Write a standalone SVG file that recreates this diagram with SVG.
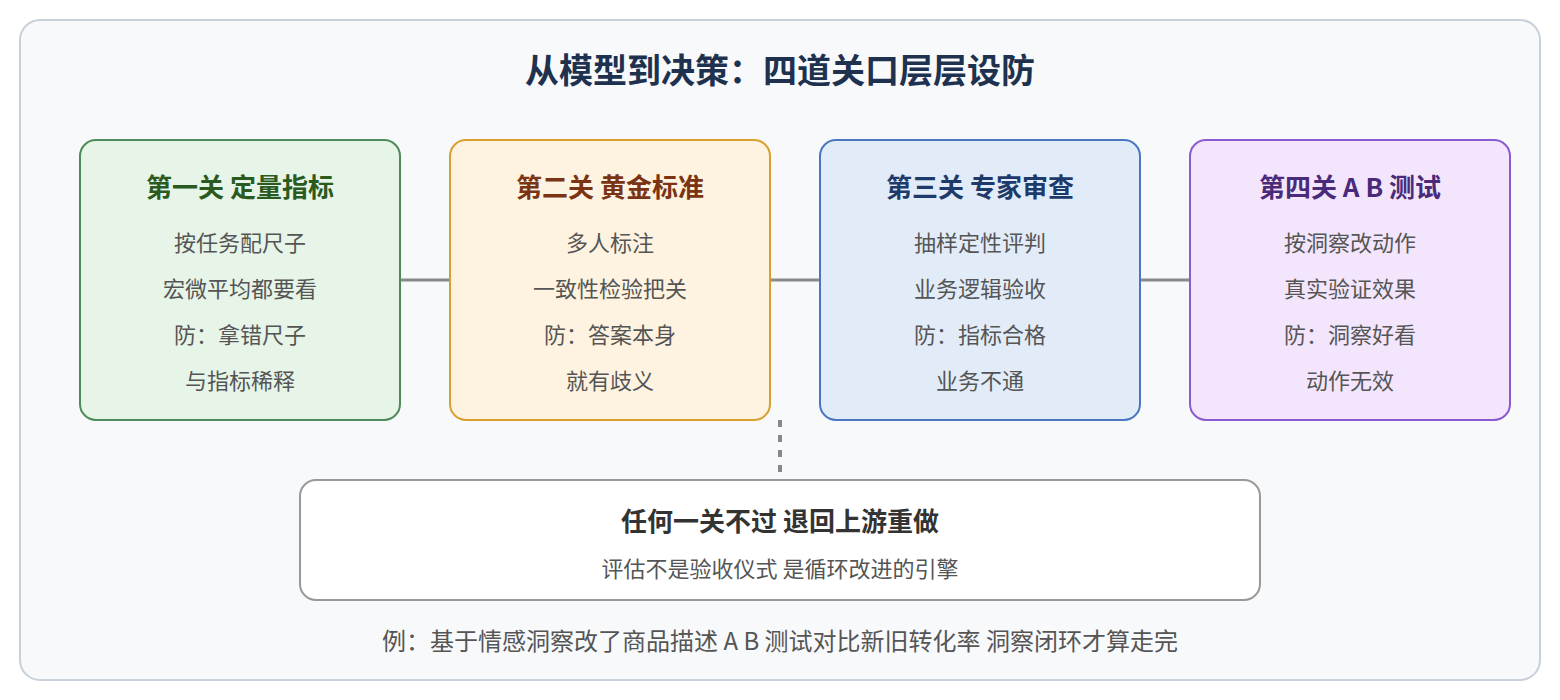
<svg xmlns="http://www.w3.org/2000/svg" width="1560" height="700" viewBox="0 0 1560 700">
<style>
text{font-family:"Noto Sans CJK SC","Noto Sans",sans-serif;text-anchor:middle}
.t{font-size:26px;font-weight:700}
.b{font-size:22px;fill:#555}
.box{stroke-width:2}
.conn{stroke:#888;stroke-width:3;fill:none}
</style>
<rect x="20" y="20" width="1520" height="660" rx="20" fill="#f8f9fb" stroke="#c8d0da" stroke-width="2"/>
<text x="780" y="83" style="font-size:34px;font-weight:700;fill:#1e3250">从模型到决策：四道关口层层设防</text>
<g id="connectors">
<line class="conn" x1="400" y1="280" x2="450" y2="280"/>
<line class="conn" x1="770" y1="280" x2="820" y2="280"/>
<line class="conn" x1="1140" y1="280" x2="1190" y2="280"/>
<line x1="780" y1="420" x2="780" y2="480" stroke="#888" stroke-width="4" stroke-dasharray="7 8"/>
</g>
<g id="gate1">
<rect class="box" x="80" y="140" width="320" height="280" rx="16" fill="#e7f4e8" stroke="#4e8a5a"/>
<text class="t" x="240" y="197" fill="#2a5a1e">第一关 定量指标</text>
<text class="b" x="240" y="251">按任务配尺子</text>
<text class="b" x="240" y="297">宏微平均都要看</text>
<text class="b" x="240" y="343">防：拿错尺子</text>
<text class="b" x="240" y="389">与指标稀释</text>
</g>
<g id="gate2">
<rect class="box" x="450" y="140" width="320" height="280" rx="16" fill="#fef3e0" stroke="#d9a030"/>
<text class="t" x="610" y="197" fill="#7a3414">第二关 黄金标准</text>
<text class="b" x="610" y="251">多人标注</text>
<text class="b" x="610" y="297">一致性检验把关</text>
<text class="b" x="610" y="343">防：答案本身</text>
<text class="b" x="610" y="389">就有歧义</text>
</g>
<g id="gate3">
<rect class="box" x="820" y="140" width="320" height="280" rx="16" fill="#e2ecf8" stroke="#4a78c0"/>
<text class="t" x="980" y="197" fill="#1e3a6a">第三关 专家审查</text>
<text class="b" x="980" y="251">抽样定性评判</text>
<text class="b" x="980" y="297">业务逻辑验收</text>
<text class="b" x="980" y="343">防：指标合格</text>
<text class="b" x="980" y="389">业务不通</text>
</g>
<g id="gate4">
<rect class="box" x="1190" y="140" width="320" height="280" rx="16" fill="#f3e6fc" stroke="#8a5ad0"/>
<text class="t" x="1350" y="197" fill="#4a2a7a">第四关 A B 测试</text>
<text class="b" x="1350" y="251">按洞察改动作</text>
<text class="b" x="1350" y="297">真实验证效果</text>
<text class="b" x="1350" y="343">防：洞察好看</text>
<text class="b" x="1350" y="389">动作无效</text>
</g>
<g id="loop">
<rect x="300" y="480" width="960" height="120" rx="16" fill="#fff" stroke="#999" stroke-width="2"/>
<text class="t" x="780" y="531" fill="#333">任何一关不过 退回上游重做</text>
<text class="b" x="780" y="577">评估不是验收仪式 是循环改进的引擎</text>
</g>
<text x="780" y="650" style="font-size:24px;fill:#555">例：基于情感洞察改了商品描述 A B 测试对比新旧转化率 洞察闭环才算走完</text>
</svg>
